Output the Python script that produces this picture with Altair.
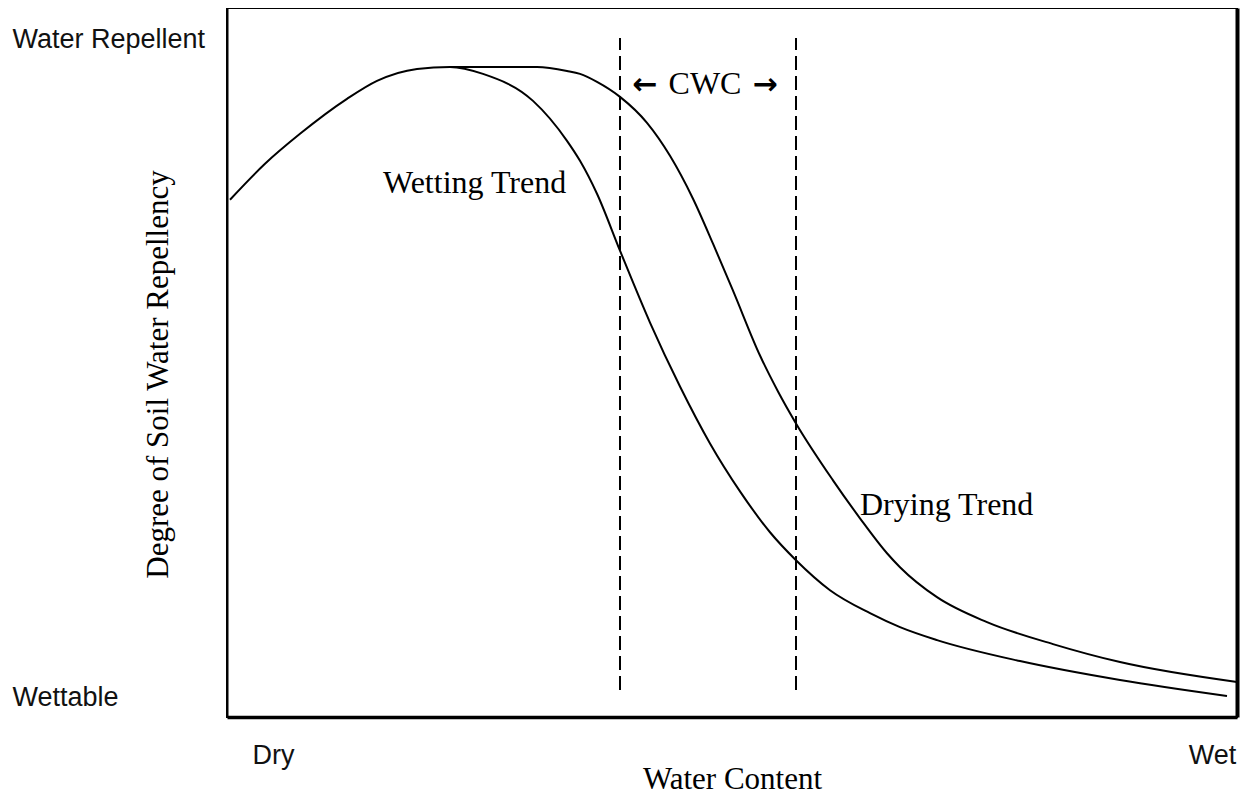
import altair as alt
import pandas as pd

# Curves (x: water content, y: degree of repellency)
wet_x = [3, 38, 73, 120, 150, 190, 223, 256, 306, 340, 353, 370, 393, 423, 453, 483,
         513, 543, 569, 603, 643, 673, 710, 793, 893, 1000]
wet_y = [518, 554, 584, 619, 637, 649, 651, 644, 617, 577, 557, 524, 467, 395, 331, 274,
         226, 185, 157, 127, 104, 90, 77, 56, 37, 21]

dry_x = [223, 310, 340, 353, 370, 393, 420, 443, 466, 486, 506, 533, 551, 569, 606,
         633, 660, 673, 710, 760, 826, 893, 1010]
dry_y = [651, 651, 647, 644, 636, 621, 595, 562, 519, 474, 427, 362, 326, 294, 237,
         199, 164, 150, 120, 95, 73, 55, 35]

# Critical water content bounds
cwc_x = [393, 569]
cwc_top = [680, 680]
cwc_bottom = [27, 27]

# Annotations
ann_text = ["Wetting Trend", "Drying Trend"]
ann_x = [156, 633]
ann_y = [525, 202]
cwc_label = ["CWC"]
cwc_label_x = [478]
cwc_label_y = [624]
arrow_text = ["\u2190", "\u2192"]
arrow_x = [418, 538]
arrow_y = [624, 624]

# Axis labels
y_tick_vals = [12, 670]
x_tick_vals = [46, 985]

wet_df = pd.DataFrame({"x": wet_x, "y": wet_y})
dry_df = pd.DataFrame({"x": dry_x, "y": dry_y})
cwc_df = pd.DataFrame({"x": cwc_x, "y": cwc_bottom, "y2": cwc_top})
ann_df = pd.DataFrame({"x": ann_x, "y": ann_y, "t": ann_text})
cwc_lab_df = pd.DataFrame({"x": cwc_label_x, "y": cwc_label_y, "t": cwc_label})
arrow_df = pd.DataFrame({"x": arrow_x, "y": arrow_y, "t": arrow_text})

xscale = alt.Scale(domain=[0, 1010], nice=False, zero=False)
yscale = alt.Scale(domain=[0, 710], nice=False, zero=False)

x_axis = alt.Axis(
    values=x_tick_vals,
    labelExpr="datum.value < 500 ? 'Dry' : 'Wet'",
    ticks=False, grid=False,
    domainColor="black", domainWidth=3.5,
    labelFont="Liberation Sans", labelFontSize=27, labelColor="#111",
    labelAlign="center", labelBaseline="alphabetic", labelPadding=46,
    title="Water Content", titleFont="Liberation Serif", titleFontSize=31,
    titleFontWeight="normal", titleColor="black", titleY=71,
    titleBaseline="alphabetic",
)

y_axis = alt.Axis(
    values=y_tick_vals,
    labelExpr="datum.value > 300 ? 'Water Repellent' : 'Wettable'",
    ticks=False, grid=False,
    domainColor="black", domainWidth=2,
    labelFont="Liberation Sans", labelFontSize=27, labelColor="#111",
    labelAlign="left", labelBaseline="alphabetic", labelPadding=215,
    labelLimit=400,
    title="Degree of Soil Water Repellency", titleFont="Liberation Serif",
    titleFontSize=31, titleFontWeight="normal", titleColor="black",
    titleAngle=270, titleX=-60, titleY=366, titleAlign="center",
    titleBaseline="alphabetic",
)

y_axis_right = alt.Axis(
    orient="right", labels=False, ticks=False, grid=False,
    domainColor="black", domainWidth=4, title="",
)

wet_line = alt.Chart(wet_df).mark_line(
    color="black", strokeWidth=2, interpolate="monotone"
).encode(
    x=alt.X("x:Q", scale=xscale, axis=x_axis),
    y=alt.Y("y:Q", scale=yscale, axis=y_axis),
)

dry_line = alt.Chart(dry_df).mark_line(
    color="black", strokeWidth=2, interpolate="monotone"
).encode(
    x=alt.X("x:Q", scale=xscale, axis=None),
    y=alt.Y("y:Q", scale=yscale, axis=y_axis_right),
)

rules = alt.Chart(cwc_df).mark_rule(
    color="black", strokeWidth=2, strokeDash=[14, 6]
).encode(
    x=alt.X("x:Q", scale=xscale, axis=None),
    y=alt.Y("y:Q", scale=yscale, axis=None),
    y2="y2:Q",
)

ann = alt.Chart(ann_df).mark_text(
    font="Liberation Serif", fontSize=32, align="left", baseline="alphabetic",
    color="black",
).encode(
    x=alt.X("x:Q", scale=xscale, axis=None),
    y=alt.Y("y:Q", scale=yscale, axis=None),
    text="t:N",
)

cwc_lab = alt.Chart(cwc_lab_df).mark_text(
    font="Liberation Serif", fontSize=32, align="center", baseline="alphabetic",
    color="black",
).encode(
    x=alt.X("x:Q", scale=xscale, axis=None),
    y=alt.Y("y:Q", scale=yscale, axis=None),
    text="t:N",
)

arrows = alt.Chart(arrow_df).mark_text(
    font="DejaVu Sans", fontSize=30, fontWeight="bold", align="center",
    baseline="alphabetic", color="black",
).encode(
    x=alt.X("x:Q", scale=xscale, axis=None),
    y=alt.Y("y:Q", scale=yscale, axis=None),
    text="t:N",
)

chart = alt.layer(wet_line, dry_line, rules, ann, cwc_lab, arrows).resolve_axis(
    y="independent", x="independent"
).properties(
    width=1010, height=709,
    autosize=alt.AutoSizeParams(type="none"),
    padding={"left": 219, "top": 0, "right": 6, "bottom": 79},
    background="white",
).configure_view(
    stroke="black", strokeWidth=2
)

chart.save("out.html", embed_options={"renderer": "svg", "actions": False})
